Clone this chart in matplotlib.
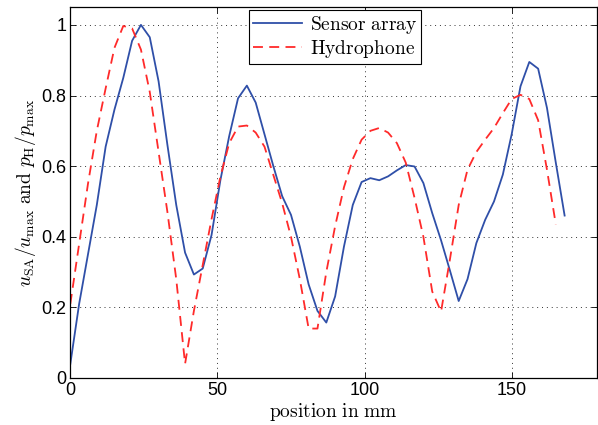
import matplotlib
matplotlib.use("Agg")
import matplotlib.pyplot as plt
import numpy as np

# positions in mm, 3 mm step
x_sensor = np.arange(0, 169, 3)
sensor = [0.04, 0.21, 0.35, 0.49, 0.655, 0.76, 0.85, 0.955, 1.0, 0.965,
          0.84, 0.66, 0.49, 0.355, 0.293, 0.31, 0.405, 0.56, 0.685, 0.792,
          0.828, 0.78, 0.69, 0.60, 0.515, 0.462, 0.372, 0.265, 0.19, 0.157,
          0.231, 0.372, 0.49, 0.555, 0.566, 0.560, 0.571, 0.588, 0.603, 0.599,
          0.552, 0.467, 0.39, 0.305, 0.218, 0.28, 0.382, 0.448, 0.50, 0.576,
          0.69, 0.826, 0.895, 0.876, 0.765, 0.61, 0.46]

x_hydro = np.arange(0, 166, 3)
hydro = [0.21, 0.38, 0.55, 0.70, 0.82, 0.935, 0.997, 0.99, 0.93, 0.81,
         0.64, 0.47, 0.28, 0.04, 0.19, 0.32, 0.45, 0.57, 0.665, 0.712,
         0.715, 0.695, 0.655, 0.575, 0.495, 0.40, 0.28, 0.14, 0.14, 0.30,
         0.43, 0.54, 0.62, 0.675, 0.70, 0.708, 0.695, 0.665, 0.61, 0.51,
         0.40, 0.245, 0.188, 0.335, 0.49, 0.59, 0.64, 0.675, 0.708, 0.75,
         0.79, 0.802, 0.79, 0.73, 0.59, 0.435]

xticks = [0, 50, 100, 150]
yticks = [0, 0.2, 0.4, 0.6, 0.8, 1]
ytick_labels = ["0", "0.2", "0.4", "0.6", "0.8", "1"]

plt.rcParams["mathtext.fontset"] = "cm"
plt.rcParams["font.family"] = ["Liberation Sans", "DejaVu Sans"]

fig = plt.figure(figsize=(5.98, 4.25), dpi=100)
ax = fig.add_axes([0.1176, 0.1106, 0.8807, 0.8724])

ax.plot(x_sensor, sensor, color="#2f4fa8", lw=1.3,
        label=r"$\mathrm{Sensor\ array}$")
ax.plot(x_hydro, hydro, color="#ff2a2a", lw=1.3, ls=(0, (5.5, 3.5)),
        label=r"$\mathrm{Hydrophone}$")

ax.set_xlim(0, 179)
ax.set_ylim(0, 1.05)
ax.set_xticks(xticks)
ax.set_yticks(yticks)
ax.set_yticklabels(ytick_labels)
ax.tick_params(direction="in", top=True, right=True, labelsize=13,
               length=4, width=0.6, pad=3)
ax.grid(True, ls=(0, (1, 4)), color="0.2", lw=0.7)
for s in ax.spines.values():
    s.set_linewidth(0.9)

ax.set_xlabel(r"$\mathrm{position\ in\ mm}$", fontsize=14, labelpad=1)
ax.set_ylabel(r"$u_{\mathrm{SA}}/u_{\max}\ \mathrm{and}\ p_{\mathrm{H}}/p_{\max}$",
              fontsize=14, labelpad=2)

leg = ax.legend(loc="upper center", bbox_to_anchor=(0.503, 0.992),
                fontsize=14, frameon=True, fancybox=False, handlelength=2.5,
                borderpad=0.2, labelspacing=0.1, handletextpad=0.4,
                borderaxespad=0.0)
leg.get_frame().set_edgecolor("black")
leg.get_frame().set_linewidth(0.8)
leg.get_frame().set_alpha(1)

fig.savefig("out.png", dpi=100)
